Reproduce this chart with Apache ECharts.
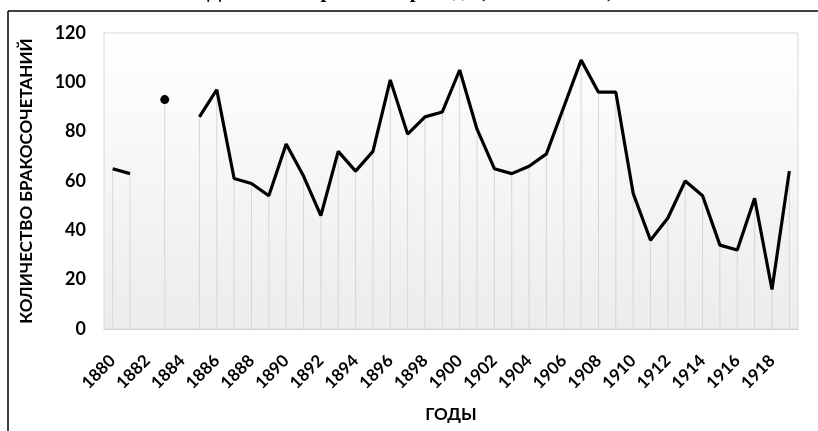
<!DOCTYPE html>
<html>
<head>
<meta charset="utf-8">
<script src="https://cdn.jsdelivr.net/npm/echarts@6/dist/echarts.min.js"></script>
<style>
    html, body { margin: 0; padding: 0; background: #fff; }
    #r1 { width: 818px; height: 431px; }
</style>
</head>
<body>
<div id="r1"></div>
<script>
// годы и количество бракосочетаний (null = нет данных)
var years = [];
for (var y = 1880; y <= 1919; y++) years.push(String(y));
var marriages = [65, 63, null, 93, null, 86, 97, 61, 59, 54,
                 75, 62, 46, 72, 64, 72, 101, 79, 86, 88,
                 105, 81, 65, 63, 66, 71, 90, 109, 96, 96,
                 55, 36, 45, 60, 54, 34, 32, 53, 16, 64];
var yTicks = [0, 20, 40, 60, 80, 100, 120];

// одиночная точка (1883) рисуется маркером
var lineData = marriages.map(function (v, i) {
    var prev = marriages[i - 1], next = marriages[i + 1];
    if (v != null && prev == null && next == null) {
        return { value: v, symbol: 'circle', symbolSize: 9 };
    }
    return v;
});

var myChart = echarts.init(document.getElementById('r1'));
var lbl = { fontFamily: 'Lato', fontWeight: 'bold', color: '#000' };

var option = {
    backgroundColor: '#fff',
    animation: false,
    graphic: [
        // обрезанный заголовок (виден только низ строки)
        { type: 'text', x: 614, y: 2,
          style: { text: 'Динамика браков в приходе (1880–1919 гг.)', font: 'bold 21px "Liberation Serif"',
                   fill: '#000', align: 'right', verticalAlign: 'bottom' } },
        { type: 'line', shape: { x1: 8, y1: 11, x2: 818, y2: 11 }, style: { stroke: '#000', lineWidth: 1.5 } },
        { type: 'line', shape: { x1: 8, y1: 11, x2: 8, y2: 431 }, style: { stroke: '#000', lineWidth: 1.5 } }
    ],
    grid: {
        left: 104, top: 33, right: 20, bottom: 102,
        show: true,
        borderColor: '#d9d9d9',
        borderWidth: 1,
        backgroundColor: new echarts.graphic.LinearGradient(0, 0, 0, 1, [
            { offset: 0, color: '#ffffff' },
            { offset: 1, color: '#ececec' }
        ])
    },
    xAxis: {
        type: 'category',
        data: years,
        boundaryGap: true,
        name: 'ГОДЫ',
        nameLocation: 'middle',
        nameGap: 77,
        nameTextStyle: { fontFamily: 'Lato', fontWeight: 'bold', fontSize: 17, color: '#000' },
        axisLine: { show: true, lineStyle: { color: '#d0d0d0' } },
        axisTick: { show: false },
        axisLabel: Object.assign({ interval: 1, rotate: 45, margin: 29, fontSize: 17 }, lbl),
        splitLine: { show: false }
    },
    yAxis: {
        type: 'value',
        min: 0, max: 120, interval: 20,
        name: 'КОЛИЧЕСТВО БРАКОСОЧЕТАНИЙ',
        nameLocation: 'middle',
        nameGap: 69,
        nameTextStyle: { fontFamily: 'Lato', fontWeight: 'bold', fontSize: 17, color: '#000' },
        axisLine: { show: false },
        axisTick: { show: false },
        axisLabel: Object.assign({ margin: 18, fontSize: 18, formatter: function (v) { return yTicks.indexOf(v) >= 0 ? v : ''; } }, lbl),
        splitLine: { show: false }
    },
    series: [
        {
            // вертикальные линии проекции
            name: 'drop',
            type: 'bar',
            barWidth: 1,
            data: marriages,
            itemStyle: { color: '#d6d6d6' },
            z: 1
        },
        {
            name: 'браки',
            type: 'line',
            data: lineData,
            symbol: 'none',
            connectNulls: false,
            lineStyle: { color: '#000', width: 3.2 },
            itemStyle: { color: '#000' },
            z: 3
        }
    ]
};
myChart.setOption(option);
</script>
</body>
</html>
